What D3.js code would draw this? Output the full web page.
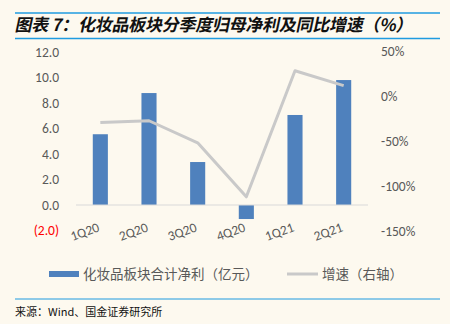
<!DOCTYPE html>
<html>
<head>
<meta charset="utf-8">
<script src="https://cdn.jsdelivr.net/npm/d3@7"></script>
<style>
  html, body { margin: 0; padding: 0; background: #fdf9ef; }
  svg { display: block; }
</style>
</head>
<body>
<svg id="chart" width="450" height="324"></svg>
<script>
// Quarterly net profit attributable to parent (100m CNY) and YoY growth
const quarters = ["1Q20", "2Q20", "3Q20", "4Q20", "1Q21", "2Q21"];
const netProfit = [5.55, 8.78, 3.37, -1.1, 7.06, 9.8];
const growthPct = [-29.5, -27.5, -52, -112, 28, 11.5];
const leftTicks = [-2, 0, 2, 4, 6, 8, 10, 12];
const rightTicks = [-150, -100, -50, 0, 50];

const svg = d3.select("#chart");
const fontCJK = "'Noto Sans CJK SC', 'Noto Sans', sans-serif";
const fontLatin = "Calibri, Carlito, 'Open Sans', 'Noto Sans', sans-serif";
const textGray = "#595959";

// Plot frame
const plotLeft = 76, plotRight = 368;
const yTop = 52, yBottom = 230.5;

const x = d3.scaleBand().domain(quarters).range([plotLeft, plotRight]).paddingInner(0.69).paddingOuter(0.345);
const xc = d3.scalePoint().domain(quarters).range([plotLeft, plotRight]).padding(0.5);
const yL = d3.scaleLinear().domain([-2, 12]).range([yBottom, yTop]);
const yR = d3.scaleLinear().domain([-150, 50]).range([231, 51]);

// Title and rules
svg.append("line").attr("x1", 15).attr("x2", 440).attr("y1", 13).attr("y2", 13)
  .attr("stroke", "#1f9be0").attr("stroke-width", 1.3);
svg.append("line").attr("x1", 15).attr("x2", 440).attr("y1", 38.5).attr("y2", 38.5)
  .attr("stroke", "#1f9be0").attr("stroke-width", 1.3);
svg.append("text").attr("x", 16).attr("y", 31)
  .attr("font-family", fontCJK).attr("font-size", 17).attr("font-weight", "bold")
  .attr("fill", "#111")
  .attr("transform", "translate(5,0) skewX(-12)")
  .attr("textLength", 398).attr("lengthAdjust", "spacing")
  .text("图表 7：化妆品板块分季度归母净利及同比增速（%）");

// Left axis labels
const leftFmt = v => v < 0 ? "(" + Math.abs(v).toFixed(1) + ")" : v.toFixed(1);
svg.append("g").selectAll("text").data(leftTicks).join("text")
  .attr("x", 59).attr("y", d => yL(d)).attr("dy", "0.35em")
  .attr("text-anchor", "end")
  .attr("font-family", fontLatin).attr("font-size", 13.5)
  .attr("fill", d => d < 0 ? "#ff0000" : textGray)
  .text(leftFmt);

// Right axis labels
svg.append("g").selectAll("text").data(rightTicks).join("text")
  .attr("x", 381).attr("y", d => yR(d)).attr("dy", "0.35em")
  .attr("text-anchor", "start")
  .attr("font-family", fontLatin).attr("font-size", 13.5)
  .attr("fill", textGray)
  .text(d => d + "%");

// Bars
svg.append("g").selectAll("rect").data(quarters).join("rect")
  .attr("x", d => x(d))
  .attr("width", x.bandwidth())
  .attr("y", (d, i) => Math.min(yL(netProfit[i]), yL(0)))
  .attr("height", (d, i) => Math.abs(yL(netProfit[i]) - yL(0)))
  .attr("fill", "#4f81bd");

// Zero line (category axis)
svg.append("line").attr("x1", plotLeft).attr("x2", plotRight)
  .attr("y1", yL(0)).attr("y2", yL(0))
  .attr("stroke", "#d9d9d9").attr("stroke-width", 1);

// Growth line on right axis
const line = d3.line().x((d, i) => xc(quarters[i])).y(d => yR(d));
svg.append("path").datum(growthPct)
  .attr("d", line).attr("fill", "none")
  .attr("stroke", "#c9c9c9").attr("stroke-width", 3)
  .attr("stroke-linejoin", "round");

// Category labels, rotated
svg.append("g").selectAll("text").data(quarters).join("text")
  .attr("transform", d => `translate(${xc(d) - 14},${236}) rotate(-20)`)
  .attr("text-anchor", "middle")
  .attr("font-family", fontLatin).attr("font-size", 13.5)
  .attr("fill", textGray)
  .text(d => d);

// Legend
const lg = svg.append("g");
lg.append("rect").attr("x", 49).attr("y", 271).attr("width", 30).attr("height", 6).attr("fill", "#4f81bd");
lg.append("text").attr("x", 83).attr("y", 279)
  .attr("font-family", fontCJK).attr("font-size", 13.5).attr("fill", textGray)
  .text("化妆品板块合计净利（亿元）");
lg.append("line").attr("x1", 287).attr("x2", 318).attr("y1", 274).attr("y2", 274)
  .attr("stroke", "#c9c9c9").attr("stroke-width", 3);
lg.append("text").attr("x", 322).attr("y", 279)
  .attr("font-family", fontCJK).attr("font-size", 13.5).attr("fill", textGray)
  .text("增速（右轴）");

// Source rule and note
svg.append("line").attr("x1", 15).attr("x2", 440).attr("y1", 299).attr("y2", 299)
  .attr("stroke", "#1f9be0").attr("stroke-width", 1);
svg.append("text").attr("x", 15).attr("y", 316)
  .attr("font-family", fontCJK).attr("font-size", 11).attr("fill", "#111")
  .text("来源：Wind、国金证券研究所");
</script>
</body>
</html>
